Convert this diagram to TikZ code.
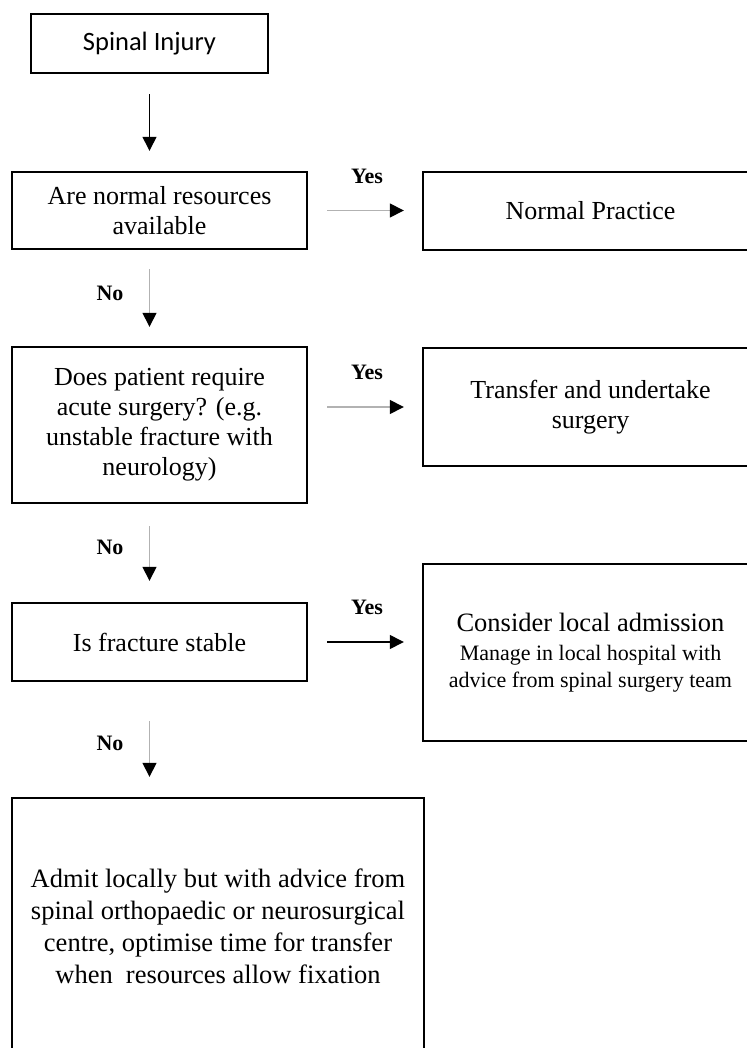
\documentclass[tikz,border=0pt]{standalone}
\usepackage{fontspec}
\setmainfont{Liberation Serif}
\newfontfamily\calibrifont{Carlito}
\usetikzlibrary{arrows.meta}
\begin{document}
\begin{tikzpicture}[x=1pt,y=-1pt,
  box/.style={draw=black,line width=2.4pt,rectangle,inner sep=0pt,align=center,
    font=\fontsize{26}{30}\selectfont},
  arr/.style={line width=1.4pt,-{Triangle[length=14pt,width=14pt]}},
  greyarr/.style={line width=1.5pt,draw=gray!60,-{Triangle[length=14pt,width=14pt,color=black]}},
  lbl/.style={font=\bfseries\fontsize{22}{26}\selectfont,inner sep=0pt}
]
\useasboundingbox (0,0) rectangle (746,1048);
% boxes
\node[box,minimum width=237pt,minimum height=59pt,font=\calibrifont\fontsize{26.5}{30}\selectfont] (b1) at (149.5,43.5) {Spinal Injury};
\node[box,minimum width=295pt,minimum height=77pt] (b2) at (159.5,210.5) {Are normal resources\\available};
\node[box,minimum width=335pt,minimum height=78pt] (b3) at (590.5,211) {Normal Practice};
\node[box,minimum width=295pt,minimum height=156pt] (b4) at (159.5,425) {Does patient require\\acute surgery? (e.g.\\unstable fracture with\\neurology)};
\node[box,minimum width=335pt,minimum height=118pt] (b5) at (590.5,407) {Transfer and undertake\\surgery};
\node[box,minimum width=295pt,minimum height=78pt] (b6) at (159.5,642) {Is fracture stable};
\node[box,minimum width=335pt,minimum height=177pt] (b7) at (590.5,652.5) {{\fontsize{26.5}{28}\selectfont Consider local admission}\\[-1pt]{\fontsize{22}{25}\selectfont Manage in local hospital with}\\[-3pt]{\fontsize{22}{25}\selectfont advice from spinal surgery team}};
\node[box,minimum width=412pt,minimum height=256pt,font=\fontsize{26.5}{32}\selectfont] (b8) at (218,926) {Admit locally but with advice from\\spinal orthopaedic or neurosurgical\\centre, optimise time for transfer\\when\ \ resources allow fixation};
% vertical arrows
\draw[arr,shorten <=20pt,shorten >=20pt] (b1.south) -- (b1.south |- b2.north);
\draw[greyarr,shorten <=19pt,shorten >=19pt] (b1.south |- b2.south) -- (b1.south |- b4.north);
\draw[greyarr,shorten <=22pt,shorten >=21pt] (b1.south |- b4.south) -- (b1.south |- b6.north);
\draw[greyarr,shorten <=39pt,shorten >=20pt] (b1.south |- b6.south) -- (b1.south |- b8.north);
% horizontal arrows
\draw[greyarr,shorten <=19pt,shorten >=18pt] (b2.east) -- (b3.west |- b2.east);
\draw[greyarr,shorten <=19pt,shorten >=18pt] (b4.east |- b5.west) -- (b5.west);
\draw[arr,shorten <=19pt,shorten >=18pt] (b6.east) -- (b7.west |- b6.east);
% labels
\node[lbl] (y1) at (367,176) {Yes};
\node[lbl] (y2) at (367,372) {Yes};
\node[lbl] (y3) at (367,607) {Yes};
\node[lbl] (n1) at (110,293) {No};
\node[lbl] (n2) at (110,547) {No};
\node[lbl] (n3) at (110,743) {No};
\end{tikzpicture}
\end{document}
